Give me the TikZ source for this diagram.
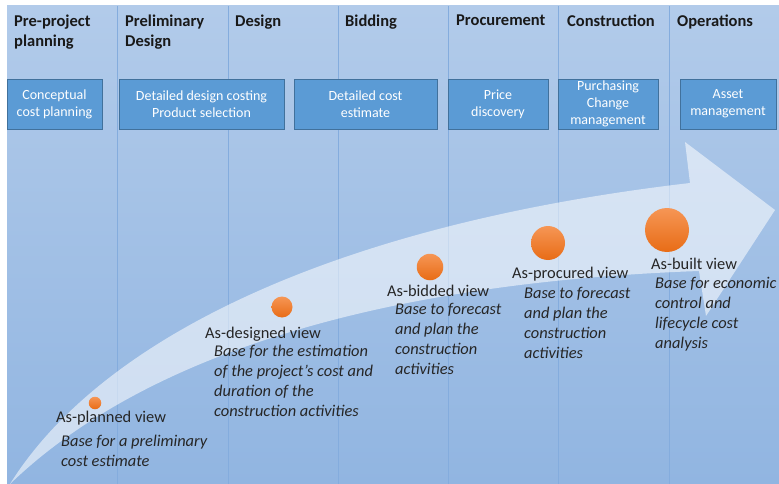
\documentclass[tikz,border=0pt]{standalone}
\usepackage{fontspec}
\setmainfont{Carlito}
\usepackage{tikz}
\usetikzlibrary{positioning}

\definecolor{bgtop}{RGB}{178,203,234}
\definecolor{bgbot}{RGB}{145,181,225}
\definecolor{sepline}{RGB}{132,172,221}
\definecolor{boxfill}{RGB}{91,155,213}
\definecolor{boxline}{RGB}{65,113,156}
\definecolor{dottop}{RGB}{246,150,85}
\definecolor{dotbot}{RGB}{232,108,22}

\tikzset{
	phase/.style={font=\bfseries\fontsize{16.5}{20}\selectfont, align=left, anchor=north west, inner sep=0pt, text=black!90},
	task/.style={draw=boxline, line width=0.8pt, fill=boxfill, text=white, font=\fontsize{14}{17}\selectfont, align=center, inner sep=0pt, minimum height=50pt},
	view/.style={font=\fontsize{16.4}{20}\selectfont, anchor=west, inner sep=0pt, text height=12pt, text depth=4pt, text=black!85},
	note/.style={font=\itshape\fontsize{16.4}{20}\selectfont, align=left, anchor=north west, inner sep=0pt, text=black!85},
	dot/.style={circle, inner sep=0pt, top color=dottop, bottom color=dotbot},
}

\begin{document}
\begin{tikzpicture}[x=1pt,y=-1pt]
		\useasboundingbox (0,0) rectangle (779,484);
		\fill[white] (0,0) rectangle (779,484);
		\shade[top color=bgtop, bottom color=bgbot] (7,6) rectangle (779,484);

		% phase separators
		\draw[sepline, line width=0.7pt] (117,6) -- (117,484);
		\draw[sepline, line width=0.7pt] (228,6) -- (228,484);
		\draw[sepline, line width=0.7pt] (338,6) -- (338,484);
		\draw[sepline, line width=0.7pt] (448,6) -- (448,484);
		\draw[sepline, line width=0.7pt] (558,6) -- (558,484);
		\draw[sepline, line width=0.7pt] (669,6) -- (669,484);

		\node[phase] (pre) at (14,15) {Pre-project\\planning};
		\node[phase] (prelim) at (125,15) {Preliminary\\Design};
		\node[phase] (des) at (235,15) {Design};
		\node[phase] (bid) at (345,15) {Bidding};
		\node[phase] (proc) at (456,15) {Procurement};
		\node[phase] (constr) at (567,15) {Construction};
		\node[phase] (oper) at (677,15) {Operations};

		\node[task, minimum width=95pt] (conc) at (54.5,104) {Conceptual\\cost planning};
		\node[task, minimum width=165pt] (detdes) at (201.5,104) {Detailed design costing\\Product selection};
		\node[task, minimum width=143pt] (detcost) at (365.5,104) {Detailed cost\\estimate};
		\node[task, minimum width=100pt] (price) at (498,104) {Price\\discovery};
		\node[task, minimum width=100pt] (purch) at (608,104) {Purchasing\\Change\\management};
		\node[task, minimum width=96pt] (asset) at (728,104) {Asset\\management};

		% curved arrow
		\fill[white, opacity=0.55] (10,484) .. controls (100,340) and (330,225) .. (690,183)
			-- (685,142) -- (775,210) -- (706,316) -- (699,271)
			.. controls (450,280) and (170,330) .. (10,484) -- cycle;

		\node[dot, minimum size=12.5pt] (dplan) at (95,403) {};
		\node[dot, minimum size=21pt] (ddes) at (282,307) {};
		\node[dot, minimum size=26.5pt] (dbid) at (430,267) {};
		\node[dot, minimum size=34pt] (dproc) at (548,243) {};
		\node[dot, minimum size=44pt] (dbuilt) at (667,230) {};

		\node[view] (planned) at (56,418) {As-planned view};
		\node[view] (designed) at (205,334) {As-designed view};
		\node[view] (bidded) at (387,292) {As-bidded view};
		\node[view] (procured) at (512,274) {As-procured view};
		\node[view] (built) at (651,265) {As-built view};

		\node[note] (nplan) at (61,434.5) {Base for a preliminary\\cost estimate};
		\node[note] (ndes) at (214,344.5) {Base for the estimation\\of the project’s cost and\\duration of the\\construction activities};
		\node[note] (nbid) at (395,303.5) {Base to forecast\\and plan the\\construction\\activities};
		\node[note] (nproc) at (524,287.5) {Base to forecast\\and plan the\\construction\\activities};
		\node[note] (nbuilt) at (655,277.5) {Base for economic\\control and\\lifecycle cost\\analysis};
	\end{tikzpicture}
\end{document}
